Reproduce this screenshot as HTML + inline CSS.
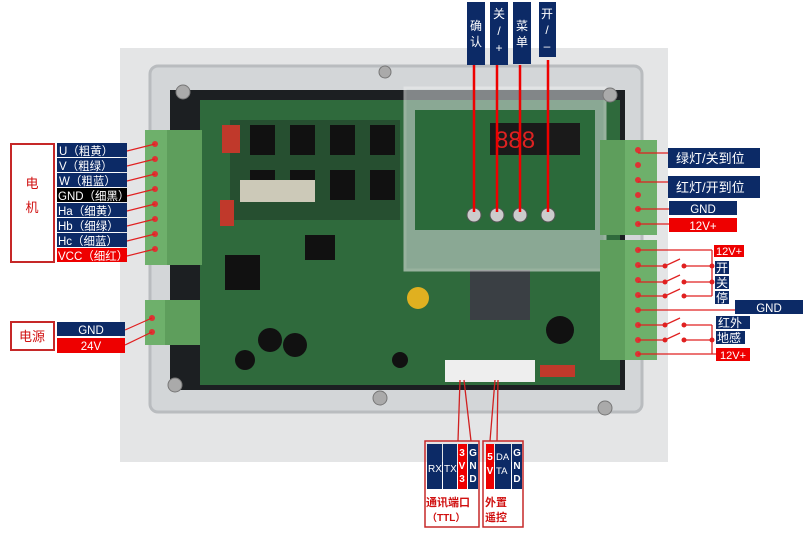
<!DOCTYPE html>
<html><head><meta charset="utf-8"><style>
html,body{margin:0;padding:0;background:#fff;}
svg text{font-family:"Liberation Sans","Noto Sans CJK SC",sans-serif;}
</style></head><body>
<svg width="809" height="536" viewBox="0 0 809 536" xmlns="http://www.w3.org/2000/svg">
<!-- photo background -->
<rect x="120" y="48" width="548" height="414" fill="#e4e5e6"/>
<rect x="150" y="66" width="492" height="346" rx="8" fill="#d3d6d8" stroke="#b9bcbf" stroke-width="3"/>
<rect x="170" y="90" width="455" height="300" fill="#1c1f22"/>
<!-- PCB -->
<rect x="200" y="100" width="420" height="285" fill="#2f6a3c"/>
<rect x="230" y="120" width="170" height="100" fill="#264f30"/>
<g fill="#111">
<rect x="250" y="125" width="25" height="30"/><rect x="290" y="125" width="25" height="30"/><rect x="330" y="125" width="25" height="30"/><rect x="370" y="125" width="25" height="30"/>
<rect x="250" y="170" width="25" height="30"/><rect x="290" y="170" width="25" height="30"/><rect x="330" y="170" width="25" height="30"/><rect x="370" y="170" width="25" height="30"/>
<rect x="305" y="235" width="30" height="25"/><rect x="225" y="255" width="35" height="35"/>
<circle cx="270" cy="340" r="12"/><circle cx="295" cy="345" r="12"/><circle cx="245" cy="360" r="10"/><circle cx="560" cy="330" r="14"/><circle cx="400" cy="360" r="8"/>
<rect x="470" y="270" width="60" height="50" fill="#3a3f44"/>
</g>
<rect x="240" y="180" width="75" height="22" fill="#ccc9b8"/>
<rect x="222" y="125" width="18" height="28" fill="#c0392b"/>
<rect x="220" y="200" width="14" height="26" fill="#c0392b"/>
<circle cx="418" cy="298" r="11" fill="#e0b020"/>
<!-- clear box -->
<rect x="405" y="88" width="200" height="182" fill="#d6dbdd" opacity="0.55" stroke="#eee" stroke-width="3"/>
<rect x="415" y="110" width="180" height="120" fill="#2b6a3a"/>
<rect x="490" y="123" width="90" height="32" fill="#1a1a1a"/>
<text x="495" y="148" font-size="24" fill="#d22">888</text>
<g fill="#ccc" stroke="#555"><circle cx="474" cy="215" r="7"/><circle cx="497" cy="215" r="7"/><circle cx="520" cy="215" r="7"/><circle cx="548" cy="215" r="7"/></g>
<rect x="445" y="360" width="90" height="22" fill="#eee"/>
<rect x="540" y="365" width="35" height="12" fill="#c0392b"/>
<!-- screws -->
<g fill="#aaa" stroke="#777"><circle cx="183" cy="92" r="7"/><circle cx="610" cy="95" r="7"/><circle cx="175" cy="385" r="7"/><circle cx="605" cy="408" r="7"/><circle cx="380" cy="398" r="7"/><circle cx="385" cy="72" r="6"/></g>
<!-- terminal blocks -->
<rect x="145" y="130" width="22" height="135" fill="#6eb06b"/><rect x="167" y="130" width="35" height="135" fill="#5e9e5c"/>
<rect x="145" y="300" width="20" height="45" fill="#6eb06b"/><rect x="165" y="300" width="35" height="45" fill="#5e9e5c"/>
<rect x="625" y="140" width="32" height="95" fill="#6eb06b"/><rect x="600" y="140" width="25" height="95" fill="#5e9e5c"/>
<rect x="625" y="240" width="32" height="120" fill="#6eb06b"/><rect x="600" y="240" width="25" height="120" fill="#5e9e5c"/>
<g fill="#d33">
<circle cx="155" cy="144" r="3"/><circle cx="155" cy="159" r="3"/><circle cx="155" cy="174" r="3"/><circle cx="155" cy="189" r="3"/><circle cx="155" cy="204" r="3"/><circle cx="155" cy="219" r="3"/><circle cx="155" cy="234" r="3"/><circle cx="155" cy="249" r="3"/>
<circle cx="152" cy="318" r="3"/><circle cx="152" cy="332" r="3"/>
<circle cx="638" cy="150" r="3"/><circle cx="638" cy="165" r="3"/><circle cx="638" cy="180" r="3"/><circle cx="638" cy="195" r="3"/><circle cx="638" cy="209" r="3"/><circle cx="638" cy="224" r="3"/>
<circle cx="638" cy="250" r="3"/><circle cx="638" cy="265" r="3"/><circle cx="638" cy="280" r="3"/><circle cx="638" cy="295" r="3"/><circle cx="638" cy="310" r="3"/><circle cx="638" cy="325" r="3"/><circle cx="638" cy="340" r="3"/><circle cx="638" cy="354" r="3"/>
</g>
<!-- left lines -->
<g stroke="#e02020" stroke-width="1.2">
<line x1="127" y1="151" x2="155" y2="144"/><line x1="127" y1="166" x2="155" y2="159"/><line x1="127" y1="181" x2="155" y2="174"/><line x1="127" y1="196" x2="155" y2="189"/><line x1="127" y1="211" x2="155" y2="204"/><line x1="127" y1="226" x2="155" y2="219"/><line x1="127" y1="241" x2="155" y2="234"/><line x1="127" y1="256" x2="155" y2="249"/>
<line x1="125" y1="330" x2="152" y2="318"/><line x1="125" y1="345" x2="152" y2="332"/>
</g>
<!-- left labels -->
<rect x="11" y="144" width="43" height="118" fill="none" stroke="#c62828" stroke-width="2"/>
<text x="32" y="188" font-size="13" fill="#d01010" text-anchor="middle">电</text>
<text x="32" y="212" font-size="13" fill="#d01010" text-anchor="middle">机</text>
<g font-size="11.5" fill="#fff">
<rect x="57" y="143" width="70" height="14" fill="#0c2a66"/><text x="59" y="155">U（粗黄）</text>
<rect x="57" y="158" width="70" height="14" fill="#0c2a66"/><text x="59" y="170">V（粗绿）</text>
<rect x="57" y="173" width="70" height="14" fill="#0c2a66"/><text x="59" y="185">W（粗蓝）</text>
<rect x="57" y="188" width="70" height="14" fill="#000"/><text x="58" y="200">GND（细黑）</text>
<rect x="57" y="203" width="70" height="14" fill="#0c2a66"/><text x="58" y="215">Ha（细黄）</text>
<rect x="57" y="218" width="70" height="14" fill="#0c2a66"/><text x="58" y="230">Hb（细绿）</text>
<rect x="57" y="233" width="70" height="14" fill="#0c2a66"/><text x="58" y="245">Hc（细蓝）</text>
<rect x="57" y="248" width="70" height="14" fill="#e00"/><text x="58" y="260">VCC（细红）</text>
</g>
<rect x="11" y="322" width="43" height="28" fill="none" stroke="#c62828" stroke-width="2"/>
<text x="32" y="341" font-size="13" fill="#d01010" text-anchor="middle">电源</text>
<rect x="57" y="322" width="68" height="14" fill="#0c2a66"/><text x="91" y="334" font-size="11.5" fill="#fff" text-anchor="middle">GND</text>
<rect x="57" y="338" width="68" height="15" fill="#e00"/><text x="91" y="350" font-size="11.5" fill="#fff" text-anchor="middle">24V</text>
<!-- right lines -->
<g stroke="#e02020" stroke-width="1.3" fill="none">
<line x1="638" y1="153" x2="670" y2="153"/><line x1="638" y1="182" x2="670" y2="182"/><line x1="638" y1="209" x2="670" y2="209"/><line x1="638" y1="224" x2="670" y2="224"/>
<line x1="638" y1="250" x2="712" y2="250"/>
<polyline points="638,266 665,266 680,259"/><line x1="684" y1="266" x2="712" y2="266"/>
<polyline points="638,282 665,282 680,275"/><line x1="684" y1="282" x2="712" y2="282"/>
<polyline points="638,296 665,296 680,289"/><line x1="684" y1="296" x2="712" y2="296"/>
<line x1="712" y1="250" x2="712" y2="296"/>
<line x1="638" y1="310" x2="736" y2="310"/>
<polyline points="638,325 665,325 680,318"/><line x1="684" y1="325" x2="712" y2="325"/>
<polyline points="638,340 665,340 680,333"/><line x1="684" y1="340" x2="712" y2="340"/>
<line x1="712" y1="325" x2="712" y2="354"/><line x1="638" y1="354" x2="716" y2="354"/>
</g>
<g fill="#e02020"><circle cx="665" cy="266" r="2.5"/><circle cx="684" cy="266" r="2.5"/><circle cx="665" cy="282" r="2.5"/><circle cx="684" cy="282" r="2.5"/><circle cx="665" cy="296" r="2.5"/><circle cx="684" cy="296" r="2.5"/><circle cx="712" cy="266" r="2.5"/><circle cx="712" cy="282" r="2.5"/><circle cx="665" cy="325" r="2.5"/><circle cx="684" cy="325" r="2.5"/><circle cx="665" cy="340" r="2.5"/><circle cx="684" cy="340" r="2.5"/><circle cx="712" cy="340" r="2.5"/></g>
<!-- right labels -->
<rect x="668" y="148" width="92" height="20" fill="#0c2a66"/><text x="676" y="163" font-size="13" fill="#fff">绿灯/关到位</text>
<rect x="668" y="176" width="92" height="22" fill="#0c2a66"/><text x="676" y="192" font-size="13" fill="#fff">红灯/开到位</text>
<rect x="669" y="201" width="68" height="14" fill="#0c2a66"/><text x="703" y="213" font-size="11.5" fill="#fff" text-anchor="middle">GND</text>
<rect x="669" y="218" width="68" height="14" fill="#e00"/><text x="703" y="230" font-size="11.5" fill="#fff" text-anchor="middle">12V+</text>
<rect x="714" y="245" width="30" height="12" fill="#e00"/><text x="729" y="255" font-size="11" fill="#fff" text-anchor="middle">12V+</text>
<rect x="715" y="261" width="14" height="13" fill="#0c2a66"/><text x="716" y="272" font-size="12" fill="#fff">开</text>
<rect x="715" y="276" width="14" height="13" fill="#0c2a66"/><text x="716" y="287" font-size="12" fill="#fff">关</text>
<rect x="715" y="291" width="14" height="13" fill="#0c2a66"/><text x="716" y="302" font-size="12" fill="#fff">停</text>
<rect x="735" y="300" width="68" height="14" fill="#0c2a66"/><text x="769" y="312" font-size="11.5" fill="#fff" text-anchor="middle">GND</text>
<rect x="716" y="316" width="34" height="13" fill="#0c2a66"/><text x="718" y="327" font-size="12" fill="#fff">红外</text>
<rect x="716" y="331" width="29" height="13" fill="#0c2a66"/><text x="717" y="342" font-size="12" fill="#fff">地感</text>
<rect x="716" y="348" width="34" height="13" fill="#e00"/><text x="733" y="359" font-size="11" fill="#fff" text-anchor="middle">12V+</text>
<!-- top buttons -->
<g stroke="#e00" stroke-width="2.5"><line x1="474" y1="65" x2="474" y2="212"/><line x1="497" y1="65" x2="497" y2="212"/><line x1="520" y1="65" x2="520" y2="212"/><line x1="548" y1="60" x2="548" y2="212"/></g>
<rect x="467" y="2" width="18" height="63" fill="#0c2a66"/>
<text x="476" y="30" font-size="12" fill="#fff" text-anchor="middle">确</text><text x="476" y="46" font-size="12" fill="#fff" text-anchor="middle">认</text>
<rect x="490" y="2" width="18" height="63" fill="#0c2a66"/>
<text x="499" y="18" font-size="12" fill="#fff" text-anchor="middle">关</text><text x="499" y="35" font-size="12" fill="#fff" text-anchor="middle">/</text><text x="499" y="52" font-size="12" fill="#fff" text-anchor="middle">+</text>
<rect x="513" y="2" width="18" height="62" fill="#0c2a66"/>
<text x="522" y="30" font-size="12" fill="#fff" text-anchor="middle">菜</text><text x="522" y="46" font-size="12" fill="#fff" text-anchor="middle">单</text>
<rect x="539" y="2" width="17" height="55" fill="#0c2a66"/>
<text x="547" y="18" font-size="12" fill="#fff" text-anchor="middle">开</text><text x="547" y="34" font-size="12" fill="#fff" text-anchor="middle">/</text><text x="547" y="50" font-size="12" fill="#fff" text-anchor="middle">–</text>
<!-- bottom -->
<g stroke="#d02020" stroke-width="1.3"><line x1="460" y1="380" x2="458" y2="441"/><line x1="464" y1="380" x2="471" y2="441"/><line x1="495" y1="380" x2="490" y2="441"/><line x1="498" y1="380" x2="497" y2="441"/></g>
<rect x="425" y="441" width="54" height="86" fill="none" stroke="#c62828" stroke-width="1.5"/>
<rect x="427" y="444" width="15" height="45" fill="#0c2a66"/><text x="428" y="472" font-size="10" fill="#fff">RX</text>
<rect x="443" y="444" width="14" height="45" fill="#0c2a66"/><text x="444" y="472" font-size="10" fill="#fff">TX</text>
<rect x="458" y="444" width="9" height="45" fill="#e00"/><g font-size="10" font-weight="bold" fill="#fff" text-anchor="middle"><text x="462" y="456">3</text><text x="462" y="469">V</text><text x="462" y="482">3</text></g>
<rect x="468" y="444" width="10" height="45" fill="#0c2a66"/><g font-size="10" font-weight="bold" fill="#fff" text-anchor="middle"><text x="473" y="456">G</text><text x="473" y="469">N</text><text x="473" y="482">D</text></g>
<text x="426" y="506" font-size="11" font-weight="bold" fill="#d01010">通讯端口</text>
<text x="427" y="521" font-size="10" font-weight="bold" fill="#d01010">（TTL）</text>
<rect x="483" y="441" width="40" height="86" fill="none" stroke="#c62828" stroke-width="1.5"/>
<rect x="486" y="444" width="8" height="45" fill="#e00"/><g font-size="10" font-weight="bold" fill="#fff" text-anchor="middle"><text x="490" y="460">5</text><text x="490" y="474">V</text></g>
<rect x="495" y="444" width="16" height="45" fill="#0c2a66"/><text x="496" y="460" font-size="9.5" fill="#fff">DA</text><text x="496" y="474" font-size="9.5" fill="#fff">TA</text>
<rect x="512" y="444" width="10" height="45" fill="#0c2a66"/><g font-size="10" font-weight="bold" fill="#fff" text-anchor="middle"><text x="517" y="456">G</text><text x="517" y="469">N</text><text x="517" y="482">D</text></g>
<text x="485" y="506" font-size="11" font-weight="bold" fill="#d01010">外置</text>
<text x="485" y="521" font-size="11" font-weight="bold" fill="#d01010">遥控</text>
</svg>
</body></html>
